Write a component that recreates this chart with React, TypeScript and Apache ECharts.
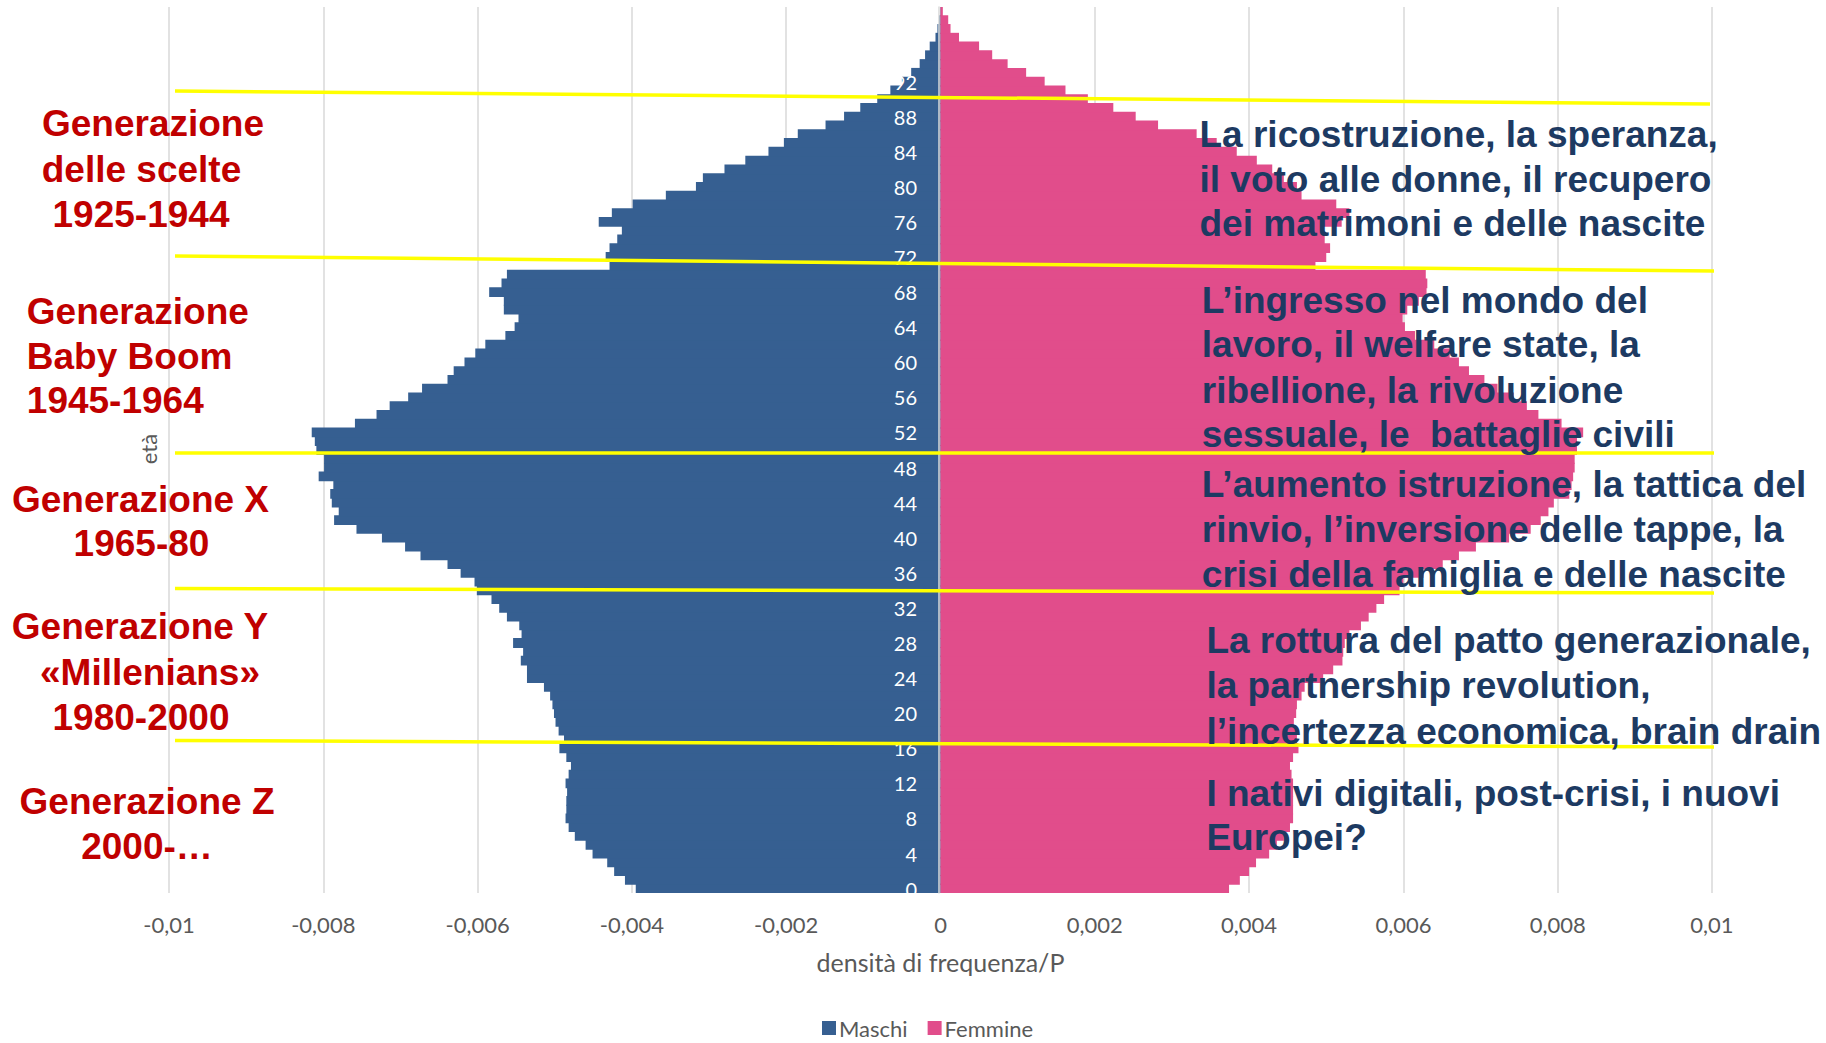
import React, { useEffect, useRef } from "react";
import * as echarts from "echarts";

// Age categories (single years of age)
const eta = [
  "0","1","2","3","4","5","6","7","8","9",
  "10","11","12","13","14","15","16","17","18","19",
  "20","21","22","23","24","25","26","27","28","29",
  "30","31","32","33","34","35","36","37","38","39",
  "40","41","42","43","44","45","46","47","48","49",
  "50","51","52","53","54","55","56","57","58","59",
  "60","61","62","63","64","65","66","67","68","69",
  "70","71","72","73","74","75","76","77","78","79",
  "80","81","82","83","84","85","86","87","88","89",
  "90","91","92","93","94","95","96","97","98","99","100",
];

// Density of frequency (per P), males
const maschi = [
  0.00395, 0.00409, 0.00423, 0.00432, 0.00451, 0.0046, 0.00474, 0.00482, 0.00486, 0.00485,
  0.00485, 0.00484, 0.00486, 0.00482, 0.00479, 0.00485, 0.00494, 0.00488, 0.00495, 0.00499,
  0.00501, 0.00503, 0.00506, 0.00514, 0.00536, 0.00536, 0.00544, 0.00541, 0.00554, 0.00543,
  0.00546, 0.00562, 0.00572, 0.00582, 0.00601, 0.00604, 0.00622, 0.00639, 0.00674, 0.00694,
  0.00724, 0.00757, 0.00786, 0.0078, 0.00789, 0.00791, 0.00787, 0.00806, 0.00799, 0.00799,
  0.00809, 0.00811, 0.00815, 0.00759, 0.00731, 0.00714, 0.0069, 0.00672, 0.00639, 0.00631,
  0.00617, 0.00603, 0.0059, 0.00564, 0.00552, 0.00547, 0.00566, 0.00566, 0.00585, 0.00569,
  0.00562, 0.00429, 0.00434, 0.00429, 0.00419, 0.00413, 0.00443, 0.00426, 0.00399, 0.00356,
  0.00317, 0.00308, 0.0028, 0.00253, 0.00223, 0.00203, 0.00185, 0.00149, 0.00125, 0.00104,
  0.00082, 0.00065, 0.0005, 0.00038, 0.00027, 0.0002, 0.00014, 0.000065, 0.00004, 0.00002, 0.000005,
];

// Density of frequency (per P), females
const femmine = [
  0.00374, 0.00388, 0.004, 0.00409, 0.00426, 0.00436, 0.00445, 0.00453, 0.00457, 0.00457,
  0.00457, 0.00457, 0.00457, 0.00455, 0.00453, 0.00457, 0.00464, 0.00462, 0.0046, 0.00458,
  0.00461, 0.00462, 0.00468, 0.00472, 0.00496, 0.00509, 0.00521, 0.00522, 0.00524, 0.0053,
  0.00545, 0.00555, 0.00565, 0.00575, 0.00595, 0.006, 0.00626, 0.00651, 0.00672, 0.00694,
  0.00737, 0.00765, 0.00778, 0.00788, 0.00795, 0.00815, 0.00818, 0.0082, 0.00822, 0.00822,
  0.00825, 0.00825, 0.00833, 0.00805, 0.00775, 0.0076, 0.00743, 0.00722, 0.00705, 0.00685,
  0.00672, 0.0066, 0.0064, 0.00615, 0.00602, 0.00599, 0.00605, 0.0062, 0.0063, 0.00631,
  0.00629, 0.00486, 0.005, 0.00505, 0.00498, 0.00496, 0.0052, 0.0053, 0.00513, 0.00468,
  0.00462, 0.00445, 0.0043, 0.0041, 0.00384, 0.00358, 0.00332, 0.00282, 0.00253, 0.00224,
  0.00191, 0.00162, 0.00135, 0.00111, 0.00087, 0.00067, 0.0005, 0.00024, 0.00013, 0.0001, 0.00003,
];

const xTickLabels = [
  "-0,01", "-0,008", "-0,006", "-0,004", "-0,002", "0",
  "0,002", "0,004", "0,006", "0,008", "0,01",
];

const seriesNames = ["Maschi", "Femmine"];

const generazioni = [
  ["Generazione", "delle scelte", "1925-1944"],
  ["Generazione", "Baby Boom", "1945-1964"],
  ["Generazione X", "1965-80"],
  ["Generazione Y", "«Millenians»", "1980-2000"],
  ["Generazione Z", "2000-…"],
];

const descrizioni = [
  ["La ricostruzione, la speranza,", "il voto alle donne, il recupero", "dei matrimoni e delle nascite"],
  ["L’ingresso nel mondo del", "lavoro, il welfare state, la", "ribellione, la rivoluzione", "sessuale, le  battaglie civili"],
  ["L’aumento istruzione, la tattica del", "rinvio, l’inversione delle tappe, la", "crisi della famiglia e delle nascite"],
  ["La rottura del patto generazionale,", "la partnership revolution,", "l’incertezza economica, brain drain"],
  ["I nativi digitali, post-crisi, i nuovi", "Europei?"],
];

// layout (positions in px)
const GRID_LEFT = 169;
const GRID_RIGHT = 114;
const GRID_TOP = 7;
const GRID_BOTTOM = 150;
const ZERO_X = 939;
const genPos = [
  { xs: [153, 141.5, 141], ys: [123.5, 169, 214.5], align: "center" },
  { xs: [26.8, 26.8, 26.8], ys: [311, 356.3, 400.6], align: "left" },
  { xs: [140.5, 141.5], ys: [499.6, 543.8], align: "center" },
  { xs: [140, 150, 141], ys: [626.5, 672, 717.3], align: "center" },
  { xs: [147, 147], ys: [801, 846.6], align: "center" },
];
const descPos = [
  { x: 1199.5, ys: [134, 179.3, 223.6] },
  { x: 1201.8, ys: [300.4, 344.7, 390.1, 434.4] },
  { x: 1201.8, ys: [484.4, 529.8, 574.1] },
  { x: 1206.4, ys: [640.5, 685.9, 731.3] },
  { x: 1206.4, ys: [793, 837.3] },
];
const yellowLines = [
  [175, 91, 1710, 104],
  [175, 256, 1714, 271],
  [175, 453, 1714, 453],
  [175, 588.5, 1714, 593],
  [175, 740.5, 1714, 747],
];

const BLUE = "#365F91";
const PINK = "#E14D8B";
const RED = "#C00000";
const NAVY = "#1D3A62";
const GRAY = "#595959";

export default function App() {
  const ref = useRef<HTMLDivElement>(null);

  useEffect(() => {
    if (!ref.current) return;
    const chart = echarts.init(ref.current, undefined, { renderer: "svg" });

    // slightly taller than one age band, so adjacent bars overlap and leave no hairline gaps
    const band = (1043 - GRID_TOP - GRID_BOTTOM) / eta.length;
    const barW = band + 1;

    const graphics: any[] = [];
    yellowLines.forEach((l) => {
      graphics.push({
        type: "line",
        z: 90,
        shape: { x1: l[0], y1: l[1], x2: l[2], y2: l[3] },
        style: { stroke: "#FFFF00", lineWidth: 3.5 },
      });
    });
    generazioni.forEach((lines, bi) => {
      const p = genPos[bi];
      lines.forEach((t, li) => {
        graphics.push({
          type: "text",
          z: 100,
          x: p.xs[li],
          y: p.ys[li],
          style: {
            text: t,
            fill: RED,
            font: 'bold 37px "Liberation Sans", Arial, sans-serif',
            textAlign: p.align,
            textVerticalAlign: "middle",
          },
        });
      });
    });
    descrizioni.forEach((lines, bi) => {
      const p = descPos[bi];
      lines.forEach((t, li) => {
        graphics.push({
          type: "text",
          z: 100,
          x: p.x,
          y: p.ys[li],
          style: {
            text: t,
            fill: NAVY,
            font: 'bold 37px "Liberation Sans", Arial, sans-serif',
            textAlign: "left",
            textVerticalAlign: "middle",
          },
        });
      });
    });
    graphics.push({
      type: "text",
      z: 100,
      x: 148,
      y: 449,
      rotation: Math.PI / 2,
      style: {
        text: "età",
        fill: GRAY,
        font: "22px Lato, sans-serif",
        textAlign: "center",
        textVerticalAlign: "middle",
      },
    });

    chart.setOption({
      animation: false,
      backgroundColor: "#ffffff",
      textStyle: { fontFamily: "Lato, sans-serif" },
      grid: { left: GRID_LEFT, right: GRID_RIGHT, top: GRID_TOP, bottom: GRID_BOTTOM, containLabel: false },
      legend: {
        data: seriesNames,
        left: 822,
        top: 1017,
        padding: 0,
        icon: "rect",
        itemWidth: 14,
        itemHeight: 14,
        itemGap: 20,
        textStyle: {
          color: GRAY,
          fontSize: 22,
          lineHeight: 20,
          fontFamily: "Lato, sans-serif",
          padding: [0, 0, 0, -2],
        },
      },
      xAxis: {
        type: "value",
        min: -0.01,
        max: 0.01,
        interval: 0.002,
        name: "densità di frequenza/P",
        nameLocation: "middle",
        nameGap: 56,
        nameTextStyle: { color: GRAY, fontSize: 25, fontFamily: "Lato, sans-serif" },
        axisLine: { show: false },
        axisTick: { show: false },
        splitLine: { show: true, lineStyle: { color: "#d9d9d9", width: 1.5 } },
        axisLabel: {
          color: GRAY,
          fontSize: 22,
          margin: 20,
          formatter: (v: number) => xTickLabels[Math.round(v / 0.002) + 5],
        },
      },
      yAxis: {
        type: "category",
        data: eta,
        position: "left",
        offset: -(ZERO_X - GRID_LEFT),
        axisLine: { show: true, onZero: false, lineStyle: { color: "#d9d9d9", width: 1.5 } },
        axisTick: { show: false },
        splitLine: { show: false },
        axisLabel: {
          interval: 3,
          color: "#ffffff",
          fontSize: 20,
          margin: 22,
        },
        z: 10,
      },
      series: [
        {
          name: seriesNames[0],
          type: "bar",
          data: maschi.map((v) => -v),
          itemStyle: { color: BLUE },
          barWidth: barW,
          barGap: "-100%",
        },
        {
          name: seriesNames[1],
          type: "bar",
          data: femmine,
          itemStyle: { color: PINK },
          barWidth: barW,
          barGap: "-100%",
        },
      ],
      graphic: graphics,
    });

    return () => chart.dispose();
  }, []);

  return (
    <div
      ref={ref}
      style={{ position: "absolute", left: 0, top: 0, width: 1826, height: 1043, background: "#fff" }}
    />
  );
}
